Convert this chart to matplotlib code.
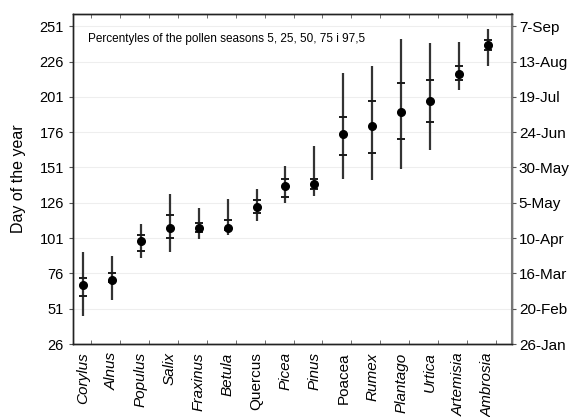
import matplotlib
matplotlib.use("Agg")
import matplotlib.pyplot as plt
import numpy as np

plt.rcParams['font.family'] = ['Liberation Sans', 'DejaVu Sans']

taxa = ["Corylus", "Alnus", "Populus", "Salix", "Fraxinus", "Betula", "Quercus",
        "Picea", "Pinus", "Poacea", "Rumex", "Plantago", "Urtica", "Artemisia", "Ambrosia"]
italic = [True, True, True, True, True, True, False,
          True, True, False, True, True, True, True, True]
p5   = [46, 57, 87, 91, 100, 103, 113, 126, 131, 143, 142, 150, 163, 206, 223]
p25  = [60, 70, 92, 101, 105, 107, 119, 130, 136, 160, 161, 171, 183, 213, 234]
p50  = [68, 71, 99, 108, 108, 108, 123, 138, 139, 175, 180, 190, 198, 217, 238]
p75  = [73, 76, 103, 117, 112, 114, 128, 143, 143, 187, 198, 211, 213, 223, 241]
p975 = [91, 88, 111, 132, 122, 129, 136, 152, 166, 218, 223, 242, 239, 240, 249]

yticks = [26, 51, 76, 101, 126, 151, 176, 201, 226, 251]
date_labels = ["26-Jan", "20-Feb", "16-Mar", "10-Apr", "5-May", "30-May",
               "24-Jun", "19-Jul", "13-Aug", "7-Sep"]
note = "Percentyles of the pollen seasons 5, 25, 50, 75 i 97,5"

fig = plt.figure(figsize=(5.7, 4.17), dpi=100)
ax = fig.add_axes([0.128, 0.175, 0.77, 0.791])
x = np.arange(len(taxa))
col = "#1a1a1a"

ax.vlines(x, p5, p975, color="#333333", lw=1.6, zorder=3)
ax.plot(x, p25, ls="none", marker="_", ms=6, mew=1.4, color=col, zorder=4)
ax.plot(x, p75, ls="none", marker="_", ms=6, mew=1.4, color=col, zorder=4)
ax.plot(x, p50, ls="none", marker="o", ms=5.5, color="black", zorder=5)

ax.set_xlim(-0.35, len(taxa) - 1 + 0.83)
ax.set_ylim(26, 259.5)
ax.set_yticks(yticks)
ax.set_yticklabels([str(v) for v in yticks], fontsize=10.5)
ax.grid(axis="y", color="#eeeeee", lw=0.8)
ax.set_axisbelow(True)

ax.set_xticks(x)
ax.set_xticklabels(taxa, rotation=90, fontsize=11, va="top", ha="center")
for lbl, it in zip(ax.get_xticklabels(), italic):
    lbl.set_style("italic" if it else "normal")
ax.tick_params(axis="x", which="major", length=0, pad=6)
ax.set_xticks(x + 0.28, minor=True)
ax.tick_params(axis="x", which="minor", direction="in", length=3, top=True, bottom=True, color="#555555")
ax.tick_params(axis="y", direction="out", length=3, color="#555555")

ax.set_ylabel("Day of the year", fontsize=11.5, labelpad=10)

for s in ax.spines.values():
    s.set_linewidth(1.0)
    s.set_color("#222222")

ax2 = ax.twinx()
ax2.set_ylim(ax.get_ylim())
ax2.set_yticks(yticks)
ax2.set_yticklabels(date_labels, fontsize=11)
ax2.tick_params(axis="y", direction="out", length=3, pad=2, color="#555555")
for s in ax2.spines.values():
    s.set_linewidth(1.0)
    s.set_color("#222222")
ax2.spines["right"].set_color("#777777")
ax2.spines["right"].set_linewidth(1.5)

ax.text(0.035, 0.925, note, transform=ax.transAxes, fontsize=8.5, va="center", ha="left")

fig.savefig("out.png", dpi=100)
